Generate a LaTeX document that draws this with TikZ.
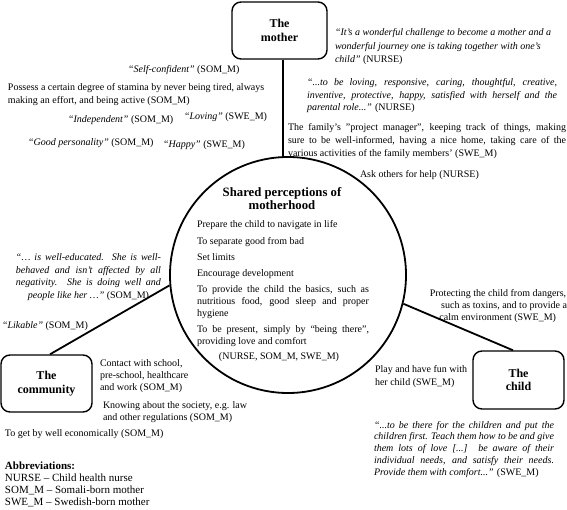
\documentclass[tikz,border=0pt]{standalone}
\usepackage{fontspec}
\setmainfont{Liberation Serif}
\usetikzlibrary{shapes.geometric}
\newcommand{\Ll}[1]{\hbox{#1}}
\newcommand{\Lj}[2]{\hbox to #1{#2}}
\newcommand{\Lc}[2]{\hbox to #1{\hfil#2\hfil}}
\newcommand{\Stack}[2][12.5pt]{\vtop{\baselineskip=#1\relax\lineskiplimit=-20pt\relax #2}}
\begin{document}
\begin{tikzpicture}[x=1pt, y=-1pt,
  txt/.style={inner sep=0pt, outer sep=0pt, anchor=base west, font=\fontsize{10}{12.5}\selectfont},
  box/.style={draw, line width=1.4pt, rounded corners=9pt, minimum width=91pt, minimum height=57pt,
    inner sep=0pt, align=center, font=\fontsize{12}{13.5}\selectfont\bfseries},
  link/.style={line width=1.8pt}]
\useasboundingbox (0,0) rectangle (567,510);

% central ellipse
\node[draw, ellipse, line width=1.8pt, minimum width=236pt, minimum height=236pt, inner sep=0pt] (ell) at (288,275) {};

% boxes
\node[box, minimum width=95pt] (mother) at (279.5,30.5) {The\\mother};
\node[box] (comm) at (46.5,383.5) {The\\community};
\node[box, minimum height=58pt] (child) at (518.5,380) {The\\child};

% connectors
\draw[link] ([xshift=3.5pt]mother.south) -- ([xshift=3.5pt]mother.south |- ell.north);
\draw[link] (ell.185) -- ([xshift=3.5pt]comm.north);
\draw[link] (ell.346) -- ([xshift=-5.5pt]child.north);

% centre text
\node[txt, font=\fontsize{12.75}{13}\selectfont\bfseries] (title) at (202,197)
  {\Stack[13pt]{\Lc{160pt}{Shared perceptions of}\Lc{160pt}{motherhood}}};
\node[txt] (shared) at (197,228) {\Stack[11.75pt]{%
  \Ll{Prepare the child to navigate in life}\vskip4.5pt
  \Ll{To separate good from bad}\vskip4.5pt
  \Ll{Set limits}\vskip4.5pt
  \Ll{Encourage development}\vskip4.5pt
  \Lj{172pt}{To provide the child the basics, such as}
  \Lj{172pt}{nutritious food, good sleep and proper}
  \Ll{hygiene}\vskip4.5pt
  \Lj{172pt}{To be present, simply by “being there”,}
  \Ll{providing love and comfort}\vskip3.5pt
  \Lc{164pt}{(NURSE, SOM\_M, SWE\_M)}}};

% mother, left
\node[txt] (selfconf) at (128,73) {\textit{“Self-confident”} (SOM\_M)};
\node[txt] (stamina) at (8,91) {\Stack[13pt]{%
  \Ll{Possess a certain degree of stamina by never being tired, always}
  \Ll{making an effort, and being active (SOM\_M)}}};
\node[txt] (indep) at (68,123) {\textit{“Independent”} (SOM\_M)};
\node[txt] (loving) at (184,120) {\textit{“Loving”} (SWE\_M)};
\node[txt] (goodpers) at (28,146) {\textit{“Good personality”} (SOM\_M)};
\node[txt] (happy) at (163,148) {\textit{“Happy”} (SWE\_M)};

% mother, right
\node[txt] (wonder) at (335,36) {\Stack[13.5pt]{%
  \Ll{\textit{“It’s a wonderful challenge to become a mother and a}}
  \Ll{\textit{wonderful journey one is taking together with one’s}}
  \Ll{\textit{child”} (NURSE)}}};
\node[txt] (lovingq) at (307,86) {\Stack[12.5pt]{%
  \Lj{250pt}{\textit{“...to be loving, responsive, caring, thoughtful, creative,}}
  \Lj{250pt}{\textit{inventive, protective, happy, satisfied with herself and the}}
  \Ll{\textit{parental role...”} (NURSE)}}};
\node[txt] (family) at (288,131) {\Stack[13pt]{%
  \Lj{278pt}{The family’s "project manager", keeping track of things, making}
  \Lj{278pt}{sure to be well-informed, having a nice home, taking care of the}
  \Ll{various activities of the family members’ (SWE\_M)}}};
\node[txt] (askhelp) at (360,178) {Ask others for help (NURSE)};

% community
\node[txt] (educated) at (16,261) {\Stack[12.5pt]{%
  \Lj{145pt}{\textit{“… is well-educated. She is well-}}
  \Lj{145pt}{\textit{behaved and isn’t affected by all}}
  \Lj{145pt}{\textit{negativity. She is doing well and}}
  \Lc{145pt}{\textit{people like her …”} (SOM\_M)}}};
\node[txt] (likable) at (2,328) {\textit{“Likable”} (SOM\_M)};
\node[txt] (contact) at (100,366) {\Stack[12pt]{%
  \Ll{Contact with school,}
  \Ll{pre-school, healthcare}
  \Ll{and work (SOM\_M)}}};
\node[txt] (knowing) at (103,408) {\Stack[12pt]{%
  \Ll{Knowing about the society, e.g. law}
  \Ll{and other regulations (SOM\_M)}}};
\node[txt] (econ) at (5,436) {To get by well economically (SOM\_M)};

% child
\node[txt] (protect) at (428,297) {\Stack[12pt]{%
  \Lc{140pt}{Protecting the child from dangers,}
  \hbox to 139pt{\hfil such as toxins, and to provide a}
  \hbox to 140pt{\hfil calm environment (SWE\_M)\hskip12pt}}};
\node[txt] (play) at (375,372) {\Stack[13pt]{%
  \Ll{Play and have fun with}
  \Ll{her child (SWE\_M)}}};
\node[txt] (childq) at (374,428) {\Stack[11.75pt]{%
  \Lj{180pt}{\textit{“...to be there for the children and put the}}
  \Lj{180pt}{\textit{children first. Teach them how to be and give}}
  \Lj{180pt}{\textit{them lots of love [...] be aware of their}}
  \Lj{180pt}{\textit{individual needs, and satisfy their needs.}}
  \Ll{\textit{Provide them with comfort...”} (SWE\_M)}}};

% abbreviations
\node[txt, font=\fontsize{11}{12}\selectfont] (abbr) at (5,469) {\Stack[12pt]{%
  \Ll{\textbf{Abbreviations:}}
  \Ll{NURSE – Child health nurse}
  \Ll{SOM\_M – Somali-born mother}
  \Ll{SWE\_M – Swedish-born mother}}};
\end{tikzpicture}
\end{document}
